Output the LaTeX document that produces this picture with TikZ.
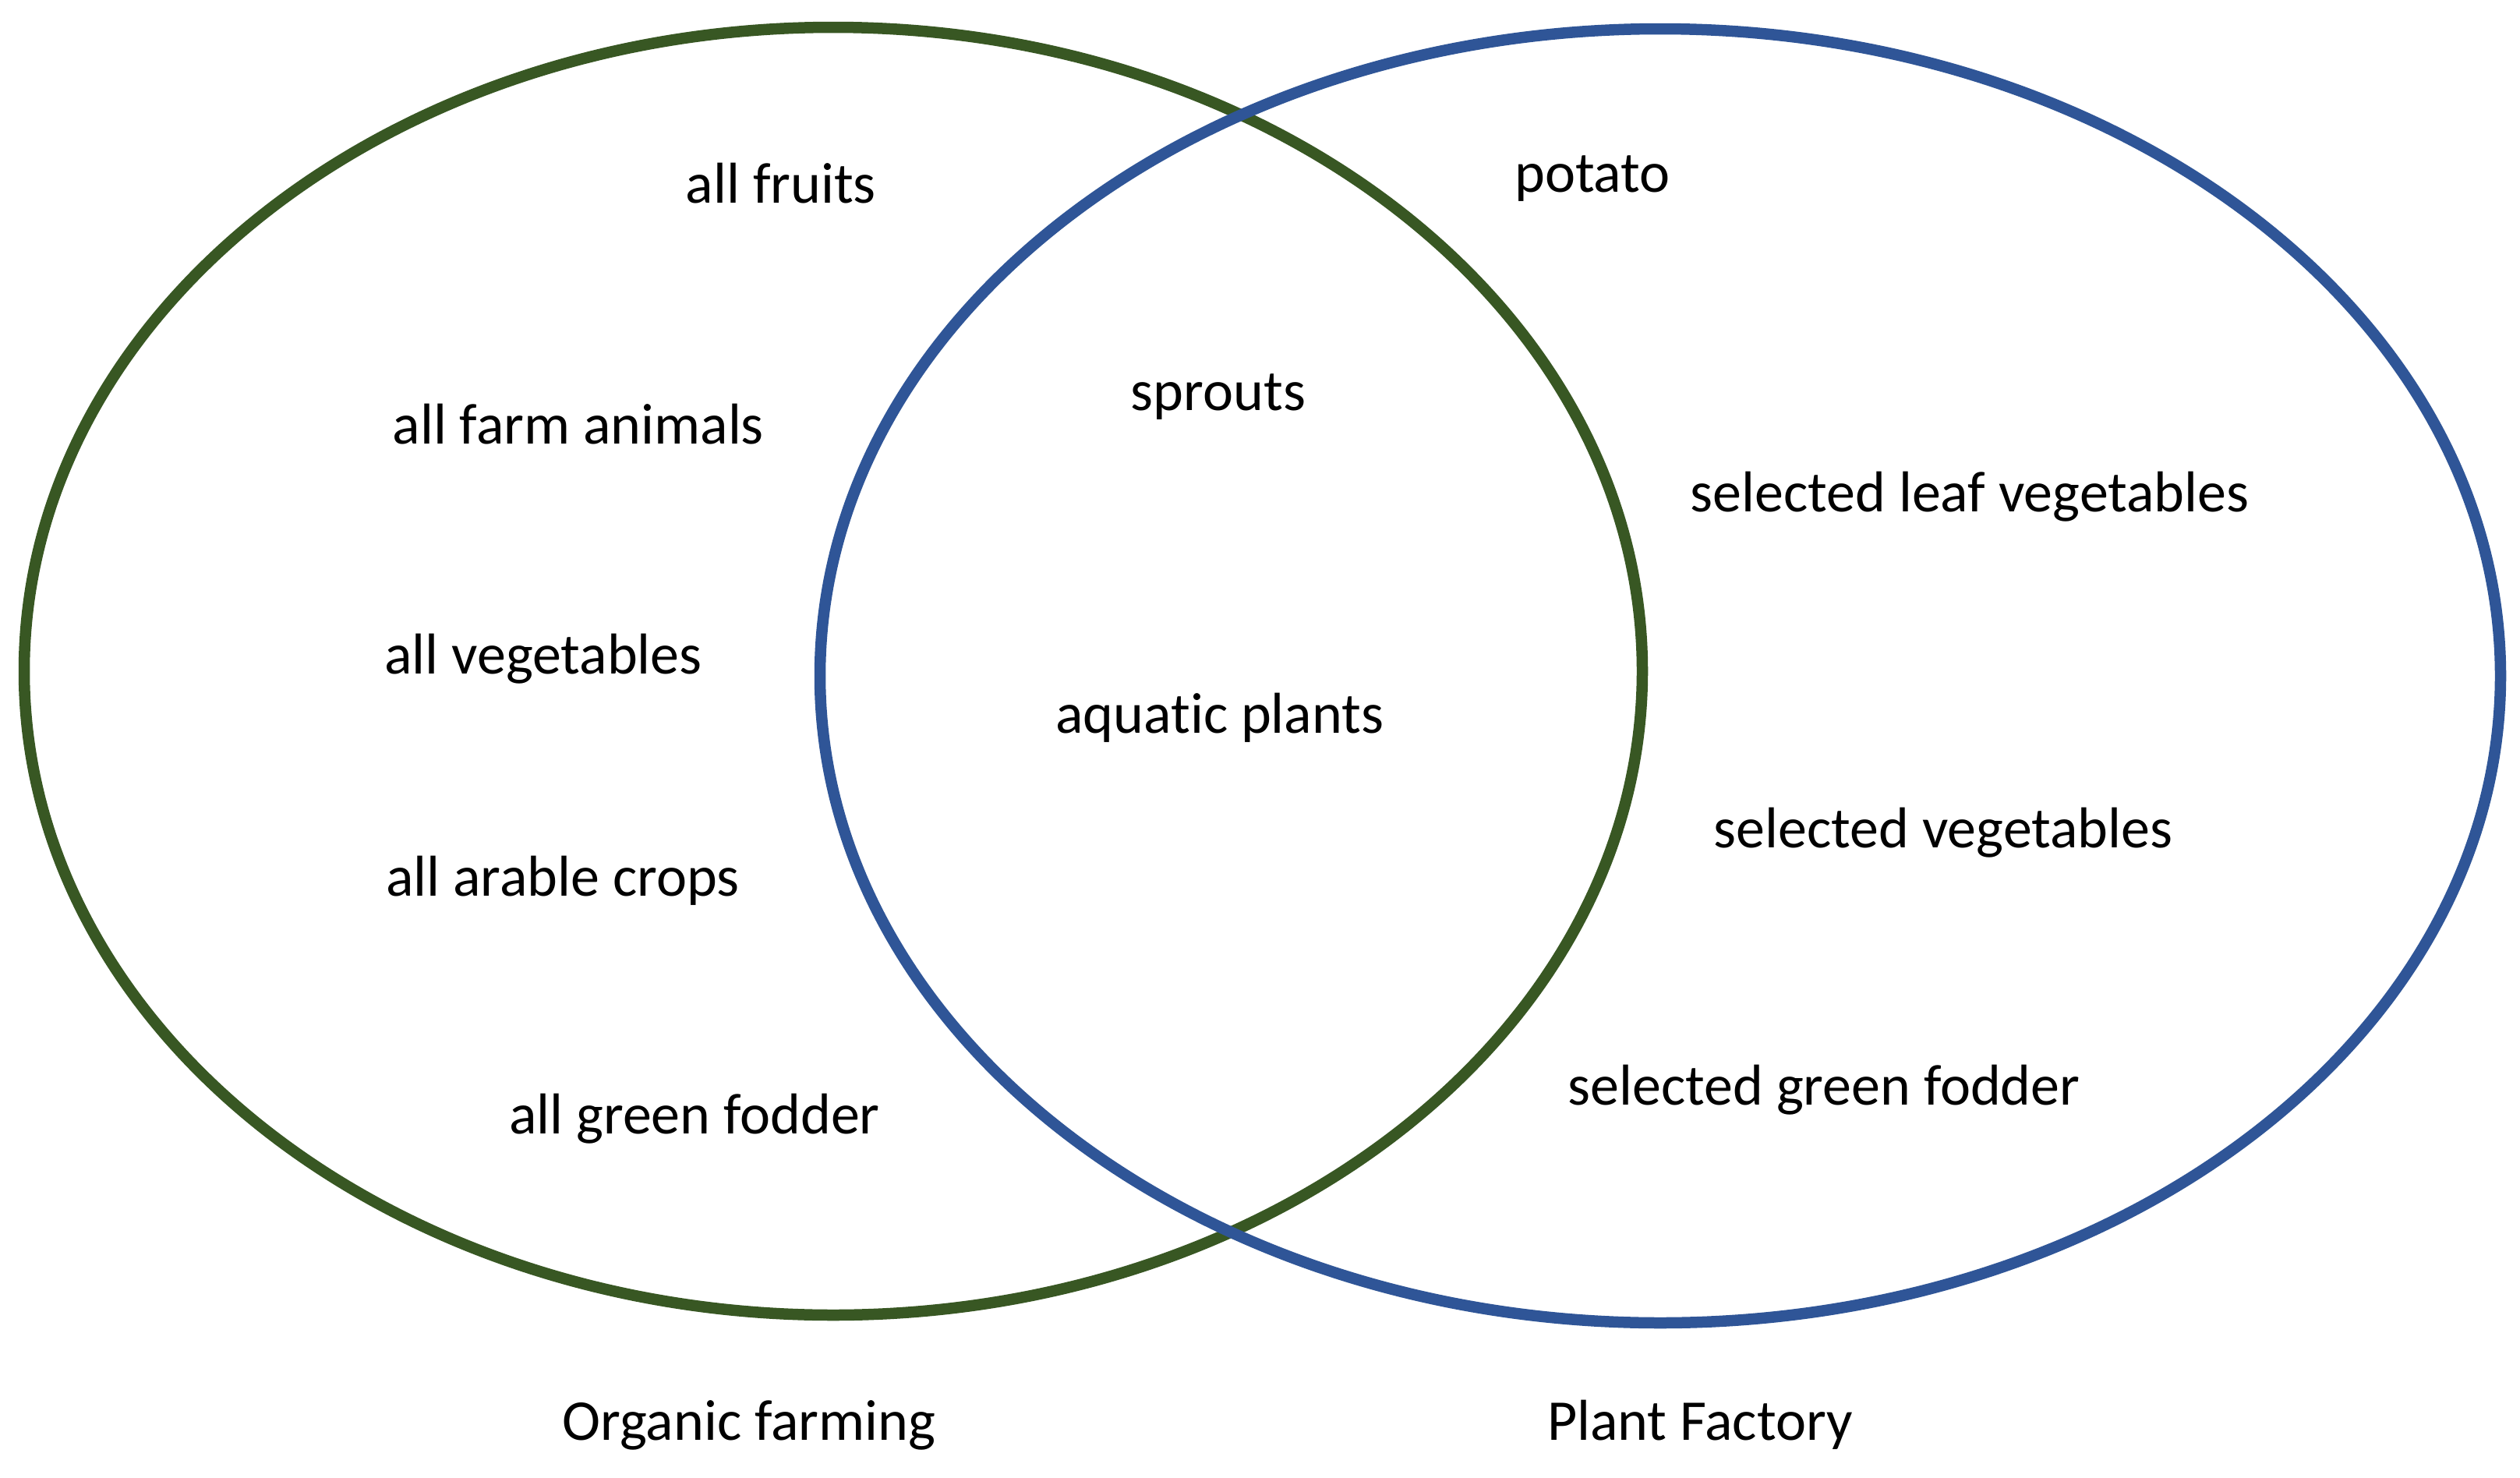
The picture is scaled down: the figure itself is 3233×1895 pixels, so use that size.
\documentclass[tikz,border=0pt]{standalone}
\usepackage{fontspec}
\setmainfont[Ligatures=CommonOff]{Carlito}
\definecolor{orggreen}{HTML}{385723}
\definecolor{pfblue}{HTML}{2F5597}
\begin{document}
\begin{tikzpicture}[x=1pt,y=-1pt,
  lbl/.style={anchor=base,inner sep=0pt,font=\fontsize{74}{88}\selectfont},
  ring/.style={line width=14.5pt}]
\useasboundingbox (0,0) rectangle (3233,1895);
\fill[white] (0,0) rectangle (3233,1895);
\draw[ring,orggreen] (1069,861) ellipse [x radius=1038, y radius=826];
\draw[ring,pfblue] (2130,867) ellipse [x radius=1078, y radius=830];
\node[lbl] (fruits) at (1002,260) {all fruits};
\node[lbl] (animals) at (742,569) {all farm animals};
\node[lbl] (veg) at (697,864) {all vegetables};
\node[lbl] (arable) at (722,1149) {all arable crops};
\node[lbl] (fodder) at (891,1454) {all green fodder};
\node[lbl] (sprouts) at (1563,526) {sprouts};
\node[lbl] (aquatic) at (1565,940) {aquatic plants};
\node[lbl] (potato) at (2043,246) {potato};
\node[lbl] (leaf) at (2527,656) {selected leaf vegetables};
\node[lbl] (selveg) at (2493,1087) {selected vegetables};
\node[lbl] (selfodder) at (2340,1417) {selected green fodder};
\node[lbl] (organic) at (961,1847) {Organic farming};
\node[lbl] (plant) at (2181,1847) {Plant Factory};
\end{tikzpicture}
\end{document}
